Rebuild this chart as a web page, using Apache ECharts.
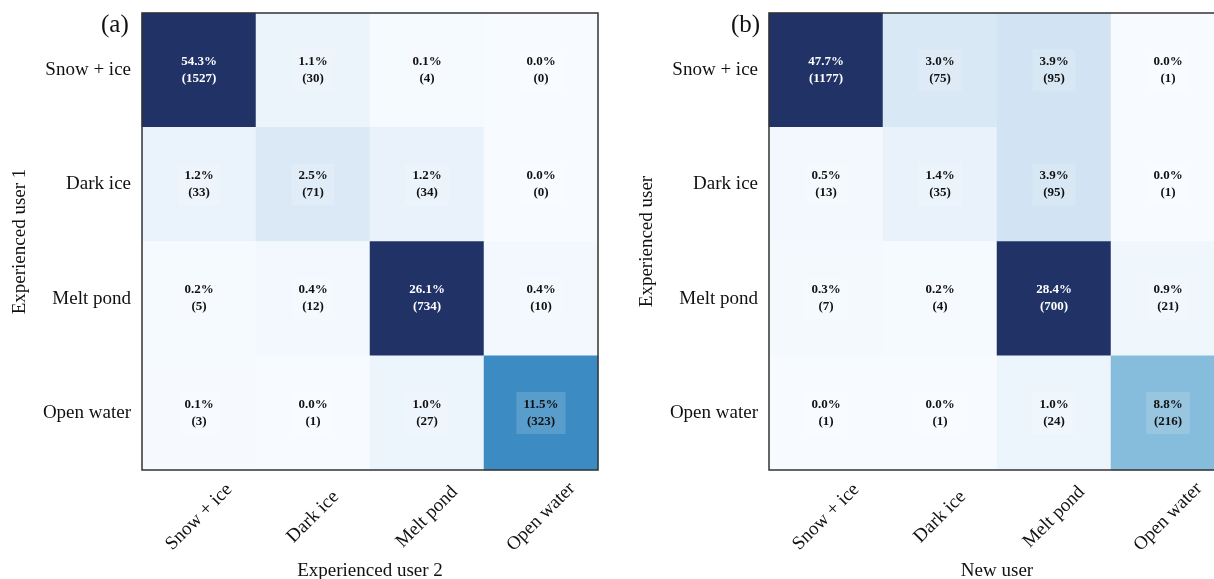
<!DOCTYPE html>
<html>
<head>
<meta charset="utf-8">
<script src="https://cdn.jsdelivr.net/npm/echarts@6/dist/echarts.min.js"></script>
<style>
  html,body{margin:0;padding:0;background:#fff;overflow:hidden;}
  /* a bit wider than the window: panel (b) runs off the right edge like the original */
  #main{width:1232px;height:579px;}
</style>
</head>
<body>
<div id="main"></div>
<script>
// class names, same order on both axes
var classes = ['Snow + ice', 'Dark ice', 'Melt pond', 'Open water']

// (a) rows = Experienced user 1, columns = Experienced user 2
var countsA = [
  [1527, 30, 4, 0],
  [33, 71, 34, 0],
  [5, 12, 734, 10],
  [3, 1, 27, 323]
]
var pctA = [
  [54.3, 1.1, 0.1, 0.0],
  [1.2, 2.5, 1.2, 0.0],
  [0.2, 0.4, 26.1, 0.4],
  [0.1, 0.0, 1.0, 11.5]
]

// (b) rows = Experienced user, columns = New user
var countsB = [
  [1177, 75, 95, 1],
  [13, 35, 95, 1],
  [7, 4, 700, 21],
  [1, 1, 24, 216]
]
var pctB = [
  [47.7, 3.0, 3.9, 0.0],
  [0.5, 1.4, 3.9, 0.0],
  [0.3, 0.2, 28.4, 0.9],
  [0.0, 0.0, 1.0, 8.8]
]

var serif = 'Liberation Serif'
var blues = ['#f7fbff','#deebf7','#c6dbef','#9ecae1','#6baed6','#4292c6','#2171b5','#08519c','#213366']

function cells(counts, pct){
  var out = []
  counts.forEach(function(row, r){
    row.forEach(function(c, k){
      var dark = c > 450
      out.push({
        value: [k, r, c, pct[r][k]],
        label: {
          color: dark ? '#fff' : '#111',
          backgroundColor: dark ? 'transparent' : 'rgba(255,255,255,0.15)'
        }
      })
    })
  })
  return out
}

function xAx(idx, name){
  return {
    type: 'category', gridIndex: idx, data: classes, position: 'bottom',
    name: name, nameLocation: 'middle', nameGap: 90,
    nameTextStyle: {fontFamily: serif, fontSize: 19, color: '#111'},
    axisLine: {show: false},
    axisTick: {alignWithLabel: true, length: 6, lineStyle: {color: '#333', width: 1.3}},
    axisLabel: {rotate: 45, align: 'center', verticalAlign: 'middle', margin: 47,
      fontFamily: serif, fontSize: 19, color: '#111'},
    splitLine: {show: false}
  }
}
function yAx(idx, name){
  return {
    type: 'category', gridIndex: idx, data: classes, inverse: true,
    name: name, nameLocation: 'middle', nameGap: 112,
    nameTextStyle: {fontFamily: serif, fontSize: 19, color: '#111'},
    axisLine: {show: false},
    axisTick: {alignWithLabel: true, length: 6, lineStyle: {color: '#333', width: 1.3}},
    axisLabel: {margin: 11, fontFamily: serif, fontSize: 19, color: '#111'},
    splitLine: {show: false}
  }
}
function heat(idx, counts, pct){
  return {
    type: 'heatmap', xAxisIndex: idx, yAxisIndex: idx,
    data: cells(counts, pct),
    encode: {x: 0, y: 1, value: 2},
    label: {
      show: true,
      fontFamily: serif, fontWeight: 'bold', fontSize: 13, lineHeight: 17,
      padding: [4, 7],
      formatter: function(p){
        return p.value[3].toFixed(1) + '%\n(' + p.value[2] + ')'
      }
    },
    emphasis: {disabled: true}
  }
}

var option = {
  backgroundColor: '#fff',
  animation: false,
  title: [
    {text: '(a)', left: 96, top: 8, textStyle: {fontFamily: serif, fontSize: 25, fontWeight: 'normal', color: '#111'}},
    {text: '(b)', left: 726, top: 8, textStyle: {fontFamily: serif, fontSize: 25, fontWeight: 'normal', color: '#111'}}
  ],
  grid: [
    {left: 142, top: 13, width: 456, height: 457, outerBoundsMode: 'none', show: true, borderColor: '#333', borderWidth: 1.5, z: 10},
    {left: 769, top: 13, width: 456, height: 457, outerBoundsMode: 'none', show: true, borderColor: '#333', borderWidth: 1.5, z: 10}
  ],
  xAxis: [xAx(0, 'Experienced user 2'), xAx(1, 'New user')],
  yAxis: [yAx(0, 'Experienced user 1'), yAx(1, 'Experienced user')],
  visualMap: [{
    show: false, type: 'continuous', min: 0, max: 500, dimension: 2,
    seriesIndex: [0, 1],
    inRange: {color: blues}
  }],
  series: [heat(0, countsA, pctA), heat(1, countsB, pctB)]
}

var chart = echarts.init(document.getElementById('main'))
chart.setOption(option)
</script>
</body>
</html>
